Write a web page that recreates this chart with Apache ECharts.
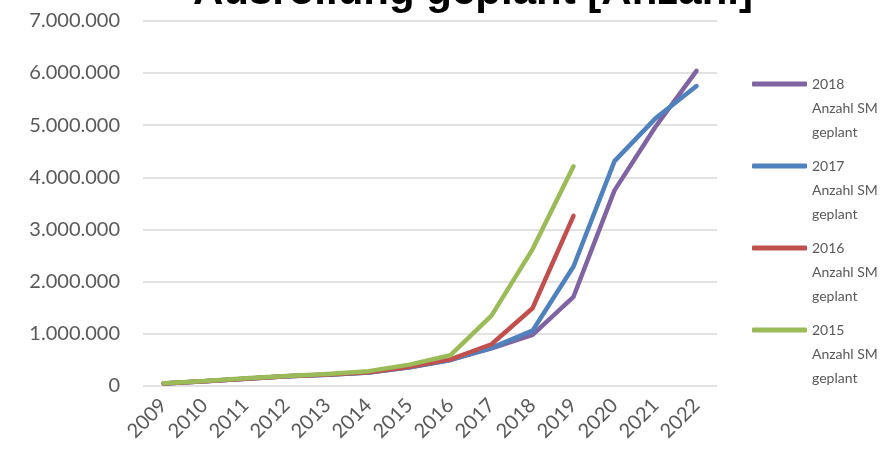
<!DOCTYPE html>
<html>
<head>
<meta charset="utf-8">
<script src="https://cdn.jsdelivr.net/npm/echarts@6/dist/echarts.min.js"></script>
<style>
  html, body { margin: 0; padding: 0; background: #fff; }
  #chart { width: 887px; height: 450px; }
</style>
</head>
<body>
<div id="chart"></div>
<script>
// Rollout plan: planned number of smart meters per planning year
const years = ['2009','2010','2011','2012','2013','2014','2015','2016','2017','2018','2019','2020','2021','2022'];

const plan2018 = [50000, 90000, 140000, 185000, 215000, 260000, 360000, 500000, 720000, 980000, 1710000, 3750000, 4970000, 6040000];
const plan2017 = [50000, 90000, 140000, 185000, 215000, 260000, 360000, 500000, 730000, 1060000, 2290000, 4310000, 5130000, 5750000];
const plan2016 = [50000, 90000, 140000, 185000, 220000, 265000, 370000, 510000, 800000, 1490000, 3260000, null, null, null];
const plan2015 = [55000, 95000, 150000, 190000, 230000, 285000, 410000, 590000, 1350000, 2620000, 4210000, null, null, null];

const planYears = ['2018', '2017', '2016', '2015'];
const seriesColors = ['#8064A2', '#4F81BD', '#C0504D', '#9BBB59'];
const seriesData = [plan2018, plan2017, plan2016, plan2015];
const seriesNames = planYears.map(y => y + ' Anzahl SM geplant');

const yTicksMax = 7000000;
const yTickStep = 1000000;

const font = 'Lato, "Open Sans", sans-serif';

function germanNumber(v) {
  return String(Math.round(v)).replace(/\B(?=(\d{3})+(?!\d))/g, '.');
}

const chart = echarts.init(document.getElementById('chart'), null, { renderer: 'canvas' });

chart.setOption({
  animation: false,
  backgroundColor: '#ffffff',
  title: {
    text: 'Ausrollung geplant [Anzahl]',
    left: 468,
    textAlign: 'center',
    top: -34,
    textStyle: { fontFamily: '"Liberation Sans", Arial, sans-serif', fontWeight: 'bold', fontSize: 42, color: '#000' }
  },
  legend: {
    orient: 'vertical',
    left: 747,
    top: 36,
    itemWidth: 55,
    itemHeight: 5,
    itemGap: -16,
    icon: 'roundRect',
    // spacer line above keeps the year on the same level as the line icon
    formatter: name => '{sp| }\n{t|' + name.slice(0, 4) + '}\n{t|Anzahl SM}\n{t|geplant}',
    textStyle: {
      fontFamily: font,
      fontSize: 14,
      color: '#595959',
      rich: {
        sp: { lineHeight: 48, fontSize: 14 },
        t: { lineHeight: 24, fontSize: 14, color: '#595959', fontFamily: font }
      }
    },
    data: seriesNames
  },
  grid: { left: 143, right: 170, top: 20.8, bottom: 64, containLabel: false },
  xAxis: {
    type: 'category',
    data: years,
    boundaryGap: true,
    axisLine: { show: false },
    axisTick: { show: false },
    axisLabel: { rotate: 45, fontFamily: font, fontSize: 20, color: '#595959', margin: 16, interval: 0 }
  },
  yAxis: {
    type: 'value',
    min: 0,
    max: yTicksMax,
    interval: yTickStep,
    axisLine: { show: false },
    axisTick: { show: false },
    splitLine: { lineStyle: { color: '#d9d9d9', width: 1.5 } },
    axisLabel: { fontFamily: font, fontSize: 20, color: '#595959', margin: 23, formatter: germanNumber }
  },
  series: seriesNames.map((name, i) => ({
    name: name,
    type: 'line',
    data: seriesData[i],
    symbol: 'none',
    connectNulls: false,
    lineStyle: { color: seriesColors[i], width: 4.5, cap: 'round', join: 'round' },
    itemStyle: { color: seriesColors[i] }
  }))
});
</script>
</body>
</html>
